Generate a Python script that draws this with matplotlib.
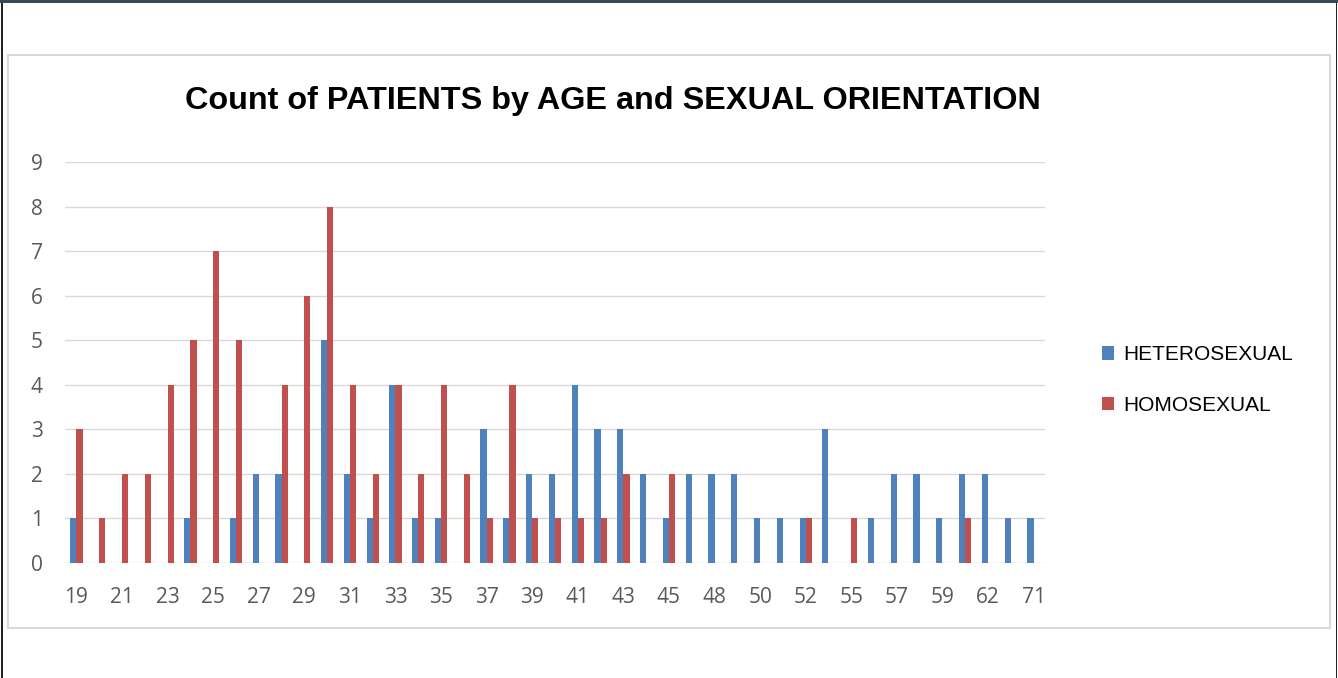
import matplotlib
matplotlib.use("Agg")
import matplotlib.pyplot as plt
from matplotlib.patches import Rectangle
import numpy as np

ages = ["19", "20", "21", "22", "23", "24", "25", "26", "27", "28", "29", "30", "31", "32",
        "33", "34", "35", "36", "37", "38", "39", "40", "41", "42", "43", "44", "45", "46",
        "48", "49", "50", "51", "52", "54", "55", "56", "57", "58", "59", "60", "62", "65", "71"]
hetero = [1, 0, 0, 0, 0, 1, 0, 1, 2, 2, 0, 5, 2, 1,
          4, 1, 1, 0, 3, 1, 2, 2, 4, 3, 3, 2, 1, 2,
          2, 2, 1, 1, 1, 3, 0, 1, 2, 2, 1, 2, 2, 1, 1]
homo = [3, 1, 2, 2, 4, 5, 7, 5, 0, 4, 6, 8, 4, 2,
        4, 2, 4, 2, 1, 4, 1, 1, 1, 1, 2, 0, 2, 0,
        0, 0, 0, 0, 1, 0, 1, 0, 0, 0, 0, 1, 0, 0, 0]
series_names = ["HETEROSEXUAL", "HOMOSEXUAL"]
title = "Count of PATIENTS by AGE and SEXUAL ORIENTATION"

blue = "#4F81BD"
red = "#C0504D"

fig = plt.figure(figsize=(13.38, 6.78), dpi=100)
fig.patch.set_facecolor("white")

W, H = 1338, 678
def fx(px): return px / W
def fy(py): return 1 - py / H
fig.patches.append(Rectangle((0, fy(3)), 1, 3 / H, transform=fig.transFigure,
                             facecolor="#3B4656", edgecolor="none", zorder=-2))
fig.patches.append(Rectangle((fx(1), 0), 1 / W * 1.5, fy(3), transform=fig.transFigure,
                             facecolor="#222222", edgecolor="none", zorder=-2))
fig.patches.append(Rectangle((1 - fx(2.5), 0), 1 / W * 1.5, fy(3), transform=fig.transFigure,
                             facecolor="#222222", edgecolor="none", zorder=-2))
fig.patches.append(Rectangle((fx(8), fy(628)), fx(1330) - fx(8), fy(55) - fy(628),
                             transform=fig.transFigure, facecolor="white",
                             edgecolor="#D9D9D9", linewidth=1.5, zorder=-1))

ax = fig.add_axes([fx(65), fy(563), fx(1045) - fx(65), fy(162) - fy(563)])
ax.set_zorder(5)
ax.patch.set_alpha(0)
x = np.arange(len(ages))
bw = 0.27
ax.bar(x - 0.135, hetero, width=bw, color=blue, label=series_names[0], zorder=3)
ax.bar(x + 0.135, homo, width=bw, color=red, label=series_names[1], zorder=3)

ax.set_xlim(-0.5, len(ages) - 0.5)
ax.set_ylim(0, 9)
ax.set_yticks(range(0, 10))
ax.set_xticks(x[::2])
ax.set_xticklabels(ages[::2])
for s in ax.spines.values():
    s.set_visible(False)
ax.grid(axis="y", color="#D9D9D9", linewidth=1.0, zorder=0)
ax.set_axisbelow(True)
ax.tick_params(axis="both", length=0, labelsize=15, labelcolor="#595959")
ax.tick_params(axis="x", pad=17)
ax.tick_params(axis="y", pad=16)
for lab in ax.get_xticklabels() + ax.get_yticklabels():
    lab.set_fontfamily("Open Sans")

fig.text(fx(613), fy(101), title, ha="center", va="center", fontsize=23.3,
         fontweight="bold", family="Liberation Sans", color="black")

leg = fig.legend(loc="center left", bbox_to_anchor=(fx(1083), fy(380)), frameon=False,
                 prop={"family": "Liberation Sans", "size": 15}, handlelength=0.6,
                 handleheight=0.6, handletextpad=0.45, labelspacing=1.5)

fig.savefig("out.png", dpi=100, facecolor="white")
